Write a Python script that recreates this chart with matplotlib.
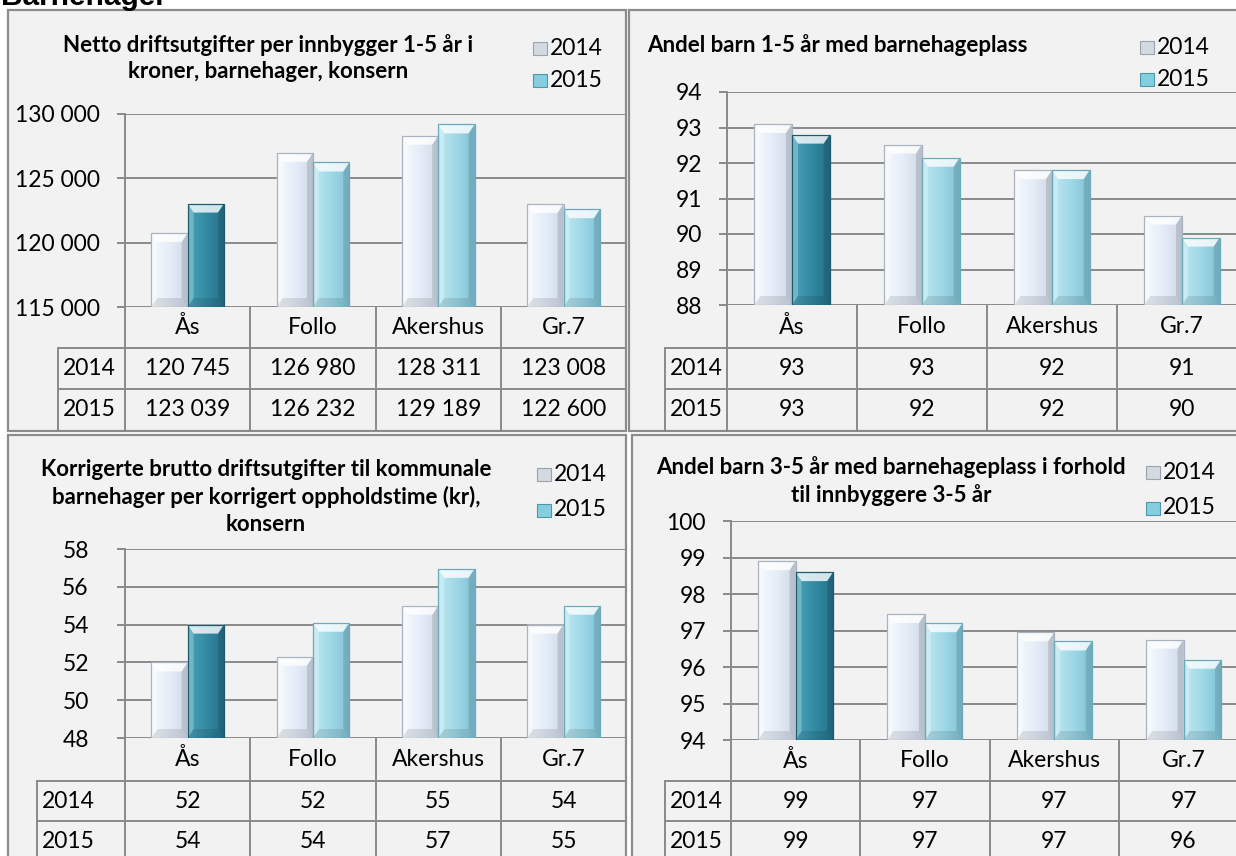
import numpy as np
import matplotlib
matplotlib.use("Agg")
import matplotlib.pyplot as plt
from matplotlib.patches import Rectangle, Polygon
from matplotlib.ticker import FuncFormatter
from matplotlib.colors import LinearSegmentedColormap

plt.rcParams['font.family'] = ['Lato', 'DejaVu Sans']

W, H = 1236, 856

categories = ['Ås', 'Follo', 'Akershus', 'Gr.7']
years = ['2014', '2015']

# Netto driftsutgifter per innbygger 1-5 år
netto_2014 = [120745, 126980, 128311, 123008]
netto_2015 = [123039, 126232, 129189, 122600]

# Andel barn 1-5 år med barnehageplass
andel15_2014 = [93.1, 92.52, 91.8, 90.52]
andel15_2015 = [92.8, 92.15, 91.8, 89.9]

# Korrigerte brutto driftsutgifter per oppholdstime
brutto_2014 = [52.0, 52.3, 55.0, 54.0]
brutto_2015 = [54.0, 54.1, 56.95, 55.0]

# Andel barn 3-5 år med barnehageplass
andel35_2014 = [98.9, 97.45, 96.95, 96.75]
andel35_2015 = [98.6, 97.2, 96.7, 96.2]

titles = [
    'Netto driftsutgifter per innbygger 1-5 år i\nkroner, barnehager, konsern',
    'Andel barn 1-5 år med barnehageplass',
    'Korrigerte brutto driftsutgifter til kommunale\nbarnehager per korrigert oppholdstime (kr),\nkonsern',
    'Andel barn 3-5 år med barnehageplass i forhold\ntil innbyggere 3-5 år',
]
yranges = [(115000, 130000, 5000), (88, 94, 1), (48, 58, 2), (94, 100, 1)]
series = [(netto_2014, netto_2015), (andel15_2014, andel15_2015),
          (brutto_2014, brutto_2015), (andel35_2014, andel35_2015)]

# layout in pixels (x from left, y from top)
layouts = [
    dict(box=(8, 10, 626, 431), ax_x=125, col_w=125.3, top=114, bot=307, rows=(348, 389), tbot=431,
         lab_x=58, title_xy=(268, 58), leg=(533, 48, 80), pad=12),
    dict(box=(629, 10, 1270, 431), ax_x=727, col_w=130, top=92, bot=305, rows=(348, 389), tbot=431,
         lab_x=665, title_xy=(837, 45), leg=(1140, 47, 79), pad=12),
    dict(box=(8, 435, 626, 880), ax_x=125, col_w=125.3, top=549, bot=738, rows=(781, 821), tbot=880,
         lab_x=37, title_xy=(266, 497), leg=(537, 474, 510), pad=20),
    dict(box=(632, 435, 1270, 880), ax_x=731, col_w=129.3, top=521, bot=740, rows=(781, 821), tbot=880,
         lab_x=665, title_xy=(891, 481), leg=(1146, 472, 508), pad=12),
]

GRID = '#8a8a8a'
FS = 16.5
c2014 = ['#f7fafd', '#e4edf8', '#cfd9e6']
c2015 = ['#bde7f1', '#9fd8e7', '#80c2d5']
c2015_hi = ['#4aa2ba', '#338aa3', '#24718a']

fig = plt.figure(figsize=(W / 100, H / 100), dpi=100, facecolor='white')
bg = fig.add_axes([0, 0, 1, 1])
bg.set_xlim(0, W)
bg.set_ylim(H, 0)
bg.axis('off')

fig.text(1 / W, 1 - 5 / H, 'Barnehager', fontfamily='Liberation Sans', fontweight='bold',
         fontsize=21.5, va='baseline', ha='left')


def shade_bar(ax, p, colors, bx, by, edge):
    x0, y0 = p.get_x(), p.get_y()
    x1, y1 = x0 + p.get_width(), y0 + p.get_height()
    cmap = LinearSegmentedColormap.from_list('g', colors)
    grad = np.linspace(0, 1, 64).reshape(1, -1)
    im = ax.imshow(grad, extent=[x0, x1, y0, y1], aspect='auto', cmap=cmap, zorder=2,
                   interpolation='bicubic')
    im.set_clip_path(p)
    bev = [
        ([(x0, y1), (x1, y1), (x1 - bx, y1 - by), (x0 + bx, y1 - by)], 'white', 0.8),
        ([(x0, y0), (x1, y0), (x1 - bx, y0 + by), (x0 + bx, y0 + by)], '#000000', 0.10),
        ([(x0, y0), (x0, y1), (x0 + bx, y1 - by), (x0 + bx, y0 + by)], 'white', 0.25),
        ([(x1, y0), (x1, y1), (x1 - bx, y1 - by), (x1 - bx, y0 + by)], '#000000', 0.12),
    ]
    for pts, col, a in bev:
        ax.add_patch(Polygon(pts, closed=True, fc=col, ec='none', alpha=a, zorder=3))
    ax.add_patch(Rectangle((x0, y0), x1 - x0, y1 - y0, fc='none', ec=edge, lw=0.9, zorder=4))


for i, (lay, title, (ymin, ymax, step), (s14, s15)) in enumerate(zip(layouts, titles, yranges, series)):
    bx0, by0, bx1, by1 = lay['box']
    bg.add_patch(Rectangle((bx0, by0), bx1 - bx0, by1 - by0, fc='#f2f2f2', ec='#8c8c8c', lw=1.6))

    ax_x, col_w, top, bot = lay['ax_x'], lay['col_w'], lay['top'], lay['bot']
    ax = fig.add_axes([ax_x / W, 1 - bot / H, 4 * col_w / W, (bot - top) / H])
    ax.set_facecolor('none')
    x = np.arange(len(categories))
    bw = 0.29
    b14 = ax.bar(x - bw / 2, np.array(s14) - ymin, bw, bottom=ymin, color=c2014[1], zorder=2)
    b15 = ax.bar(x + bw / 2, np.array(s15) - ymin, bw, bottom=ymin, color=c2015[1], zorder=2)
    px_y = (bot - top) / (ymax - ymin)
    bxd, byd = 6 / col_w, 9 / px_y
    for p in b14:
        shade_bar(ax, p, c2014, bxd, byd, '#a9b3bf')
    for j, p in enumerate(b15):
        if j == 0:
            shade_bar(ax, p, c2015_hi, bxd, byd, '#1d5a6c')
        else:
            shade_bar(ax, p, c2015, bxd, byd, '#6aaabb')
    ax.set_xlim(-0.5, 3.5)
    ax.set_ylim(ymin, ymax)
    ax.set_yticks(np.arange(ymin, ymax + step / 2, step))
    if ymax > 1000:
        ax.yaxis.set_major_formatter(FuncFormatter(lambda v, _: f'{v:,.0f}'.replace(',', ' ')))
    else:
        ax.yaxis.set_major_formatter(FuncFormatter(lambda v, _: f'{v:.0f}'))
    ax.set_xticks([])
    ax.grid(axis='y', color=GRID, lw=1.4)
    ax.set_axisbelow(True)
    for s in ['top', 'right', 'bottom']:
        ax.spines[s].set_visible(False)
    ax.spines['left'].set_color(GRID)
    ax.spines['left'].set_linewidth(1.4)
    ax.tick_params(axis='y', length=6, width=1.4, color=GRID, labelsize=FS, pad=lay['pad'])

    # data table
    r1, r2 = lay['rows']
    tbot = lay['tbot']
    lab_x = lay['lab_x']
    bg.plot([ax_x, ax_x], [bot, tbot], color=GRID, lw=1.4)
    for k in range(1, 4):
        xs = ax_x + k * col_w
        bg.plot([xs, xs], [bot, tbot], color=GRID, lw=1.4)
    right = ax_x + 4 * col_w
    bg.plot([lab_x, right], [r1, r1], color=GRID, lw=1.4)
    bg.plot([lab_x, right], [r2, r2], color=GRID, lw=1.4)
    bg.plot([lab_x, lab_x], [r1, tbot], color=GRID, lw=1.4)
    row_mid = [(bot + r1) / 2, (r1 + r2) / 2, (r2 + min(tbot, r2 + 41)) / 2]
    for k, cat in enumerate(categories):
        cx = ax_x + (k + 0.5) * col_w
        bg.text(cx, row_mid[0], cat, ha='center', va='center', fontsize=FS)
        for r, vals in enumerate((s14, s15)):
            v = vals[k]
            if ymax > 1000:
                txt = f'{v:,.0f}'.replace(',', ' ')
            else:
                txt = str(int(np.floor(v + 0.5)))
            bg.text(cx, row_mid[r + 1], txt, ha='center', va='center', fontsize=FS)
    for r, yr in enumerate(years):
        bg.text(lab_x + 5, row_mid[r + 1], yr, ha='left', va='center', fontsize=FS)

    # title
    tx, ty = lay['title_xy']
    bg.text(tx, ty, title, ha='center', va='center', fontsize=16, fontweight='bold',
            linespacing=1.35)

    # legend
    lx, ly14, ly15 = lay['leg']
    for ly, yr, cols, ec in ((ly14, '2014', ['#eef1f5', '#d3d9e1', '#b9c1cc'], '#9aa3ad'),
                             (ly15, '2015', ['#b4e2ee', '#86cde0', '#5fb3c8'], '#4e97ab')):
        bg.add_patch(Rectangle((lx, ly - 6.5), 14, 13, fc=cols[1], ec=ec, lw=0.8))
        bg.text(lx + 17, ly, yr, ha='left', va='center', fontsize=FS)

fig.savefig('out.png', dpi=100, facecolor='white')
